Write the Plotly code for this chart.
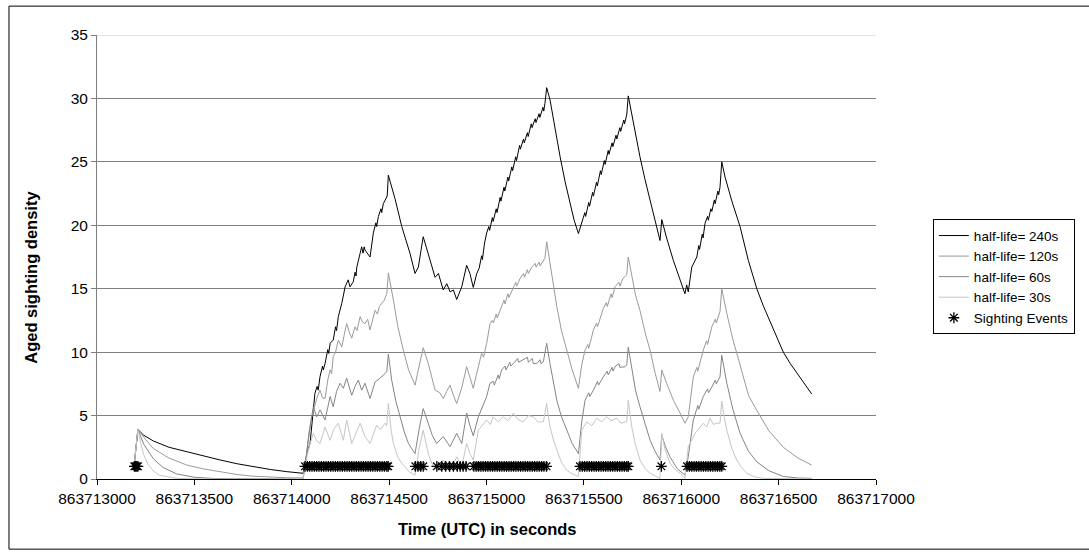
import plotly.graph_objects as go

# ---- data ----
T0 = 863713000  # times below are seconds after T0

t_240 = [190, 210, 240, 289, 370, 461, 545, 632, 720, 801, 890, 974, 1058, 1068, 1080, 1094, 1105, 1119, 1130,
         1136, 1145, 1158, 1162, 1171, 1185, 1190, 1197, 1213, 1225, 1230, 1239, 1257, 1274, 1290, 1299, 1316,
         1325, 1330, 1334, 1359, 1366, 1372, 1376, 1402, 1419, 1432, 1436, 1445, 1458, 1462, 1470, 1480, 1490,
         1496, 1530, 1565, 1607, 1633, 1650, 1675, 1701, 1736, 1753, 1778, 1796, 1813, 1830, 1847, 1873, 1898,
         1915, 1932, 1950, 1962, 1975, 1979, 1990, 2001, 2012, 2016, 2030, 2034, 2050, 2054, 2070, 2074, 2090,
         2094, 2110, 2114, 2130, 2134, 2150, 2154, 2170, 2174, 2190, 2194, 2210, 2214, 2230, 2234, 2250, 2254,
         2270, 2274, 2290, 2294, 2300, 2309, 2326, 2352, 2378, 2404, 2429, 2450, 2472, 2489, 2505, 2509, 2525,
         2529, 2545, 2549, 2565, 2569, 2585, 2589, 2605, 2609, 2625, 2629, 2645, 2649, 2665, 2669, 2685, 2689,
         2705, 2709, 2720, 2728, 2737, 2762, 2788, 2814, 2840, 2865, 2891, 2900, 2925, 2960, 2994, 3019, 3028,
         3036, 3054, 3080, 3090, 3094, 3108, 3112, 3122, 3135, 3139, 3152, 3157, 3170, 3174, 3188, 3192, 3199,
         3208, 3225, 3260, 3302, 3345, 3388, 3420, 3456, 3490, 3524, 3560, 3600, 3635, 3670]
v_240 = [1.0, 3.9, 3.45, 3.0, 2.5, 2.15, 1.8, 1.5, 1.2, 0.97, 0.75, 0.58, 0.45, 1.2, 2.2, 2.8, 4.5, 6.75, 7.3,
         7.0, 8.06, 8.9, 8.6, 9.1, 10.2, 9.9, 10.7, 10.95, 12.0, 11.7, 12.8, 13.85, 15.15, 15.7, 15.15, 15.55,
         16.3, 16.0, 16.7, 18.3, 17.8, 18.3, 18.05, 17.5, 19.4, 20.2, 19.9, 20.7, 21.3, 21.0, 21.7, 22.0, 22.3,
         23.95, 22.1, 19.9, 17.8, 16.2, 16.7, 19.1, 17.8, 15.9, 16.2, 14.9, 15.4, 14.75, 14.9, 14.15, 15.15, 16.85,
         16.2, 15.1, 16.2, 16.6, 17.6, 17.3, 18.6, 19.4, 19.9, 19.6, 20.6, 20.3, 21.3, 21.0, 22.2, 21.9, 23.0,
         22.7, 23.8, 23.5, 24.6, 24.3, 25.4, 25.1, 26.3, 26.0, 26.8, 26.5, 27.3, 27.0, 28.0, 27.7, 28.4, 28.1,
         28.8, 28.5, 29.3, 29.0, 29.6, 30.85, 29.9, 27.6, 25.4, 23.4, 21.7, 20.4, 19.35, 20.15, 21.0, 20.7, 21.8,
         21.5, 22.6, 22.3, 23.4, 23.1, 24.3, 24.0, 25.1, 24.8, 25.9, 25.6, 26.5, 26.2, 27.1, 26.8, 27.7, 27.4,
         28.3, 28.0, 28.7, 30.2, 29.5, 27.3, 25.4, 23.6, 22.0, 20.3, 18.8, 20.45, 19.0, 17.2, 15.6, 14.6, 15.3,
         14.75, 16.7, 17.5, 18.4, 18.1, 19.3, 19.0, 20.15, 20.7, 20.4, 21.3, 21.1, 22.0, 21.7, 22.7, 22.4, 23.0,
         25.0, 23.8, 21.9, 19.9, 17.2, 15.0, 13.7, 12.4, 11.2, 10.0, 9.1, 8.2, 7.4, 6.7]

t_120 = [190, 210, 250, 289, 370, 461, 545, 632, 720, 801, 890, 974, 1058, 1068, 1085, 1102, 1115, 1128, 1145,
         1158, 1171, 1185, 1197, 1205, 1213, 1225, 1239, 1257, 1270, 1282, 1295, 1308, 1325, 1335, 1351, 1362,
         1376, 1390, 1402, 1415, 1428, 1440, 1450, 1462, 1475, 1488, 1496, 1522, 1545, 1573, 1600, 1633, 1650,
         1675, 1701, 1736, 1760, 1778, 1795, 1813, 1830, 1847, 1873, 1898, 1915, 1932, 1958, 1975, 1985, 2001,
         2018, 2030, 2035, 2050, 2055, 2078, 2090, 2095, 2110, 2115, 2138, 2150, 2155, 2172, 2190, 2195, 2210,
         2215, 2232, 2250, 2255, 2270, 2275, 2292, 2300, 2309, 2326, 2345, 2361, 2385, 2412, 2440, 2472, 2489,
         2506, 2520, 2525, 2549, 2565, 2570, 2600, 2615, 2620, 2640, 2645, 2660, 2680, 2685, 2700, 2711, 2720,
         2728, 2746, 2765, 2788, 2815, 2840, 2865, 2891, 2900, 2925, 2960, 2994, 3019, 3036, 3062, 3080, 3085,
         3113, 3130, 3135, 3157, 3175, 3180, 3199, 3208, 3234, 3265, 3302, 3345, 3388, 3450, 3524, 3600, 3670]
v_120 = [1.0, 3.9, 3.1, 2.4, 1.65, 1.1, 0.8, 0.55, 0.35, 0.22, 0.14, 0.1, 0.08, 0.9, 3.0, 4.9, 5.6, 6.35, 7.0,
         6.4, 6.35, 7.8, 8.6, 8.3, 9.65, 10.0, 10.95, 10.4, 11.4, 12.25, 11.6, 11.1, 12.0, 11.7, 12.8, 12.4,
         12.25, 12.6, 11.75, 12.6, 13.3, 13.0, 13.6, 13.85, 14.1, 14.6, 16.25, 14.1, 12.0, 10.15, 8.6, 7.4, 8.5,
         10.35, 9.1, 7.0, 6.8, 6.35, 6.9, 7.4, 6.6, 5.95, 7.2, 8.85, 8.0, 7.15, 8.85, 9.9, 9.6, 10.7,
         12.25, 12.5, 12.3, 13.0, 12.7, 13.7, 14.1, 13.8, 14.6, 14.3, 15.15, 15.5, 15.2, 15.8, 16.2, 15.9, 16.5,
         16.2, 16.7, 17.0, 16.7, 17.1, 16.8, 17.25, 17.4, 18.7, 17.0, 15.2, 13.6, 11.7, 10.15, 8.6, 7.15, 9.0,
         10.15, 10.6, 10.3, 11.75, 12.3, 12.0, 13.45, 13.9, 13.6, 14.6, 14.3, 15.15, 15.5, 15.2, 15.8, 15.95, 16.1,
         17.5, 15.95, 14.5, 13.3, 11.5, 10.15, 8.4, 6.9, 8.6, 7.55, 6.2, 5.2, 4.4, 4.9, 8.05, 8.8, 8.5,
         10.15, 10.9, 10.6, 12.0, 12.6, 12.3, 13.2, 15.0, 13.05, 11.0, 9.0, 6.6, 5.4, 3.8, 2.5, 1.65, 1.1]

t_60 = [190, 210, 240, 289, 340, 409, 500, 600, 1058, 1068, 1090, 1111, 1128, 1145, 1171, 1197, 1213, 1230, 1248,
        1265, 1282, 1308, 1325, 1342, 1359, 1376, 1402, 1428, 1450, 1470, 1488, 1496, 1513, 1535, 1556, 1578,
        1599, 1633, 1655, 1675, 1701, 1720, 1744, 1778, 1813, 1847, 1873, 1898, 1915, 1932, 1958, 1980, 2001,
        2018, 2035, 2040, 2060, 2065, 2078, 2095, 2100, 2120, 2125, 2138, 2160, 2165, 2189, 2210, 2215, 2235,
        2240, 2258, 2275, 2280, 2292, 2309, 2326, 2345, 2361, 2385, 2412, 2440, 2472, 2489, 2506, 2525, 2530,
        2549, 2570, 2575, 2600, 2620, 2625, 2645, 2650, 2660, 2680, 2685, 2711, 2720, 2728, 2746, 2765, 2788,
        2815, 2840, 2865, 2891, 2900, 2920, 2942, 2980, 3019, 3036, 3062, 3085, 3090, 3113, 3135, 3140, 3157,
        3175, 3180, 3199, 3208, 3234, 3265, 3302, 3345, 3388, 3450, 3524, 3600, 3670]
v_60 = [1.0, 3.9, 2.75, 1.6, 0.9, 0.4, 0.14, 0.04, 0.0, 1.0, 3.8, 5.7, 4.9, 5.45, 4.65, 6.5, 5.7, 6.9, 7.55,
        7.15, 7.95, 6.6, 7.3, 7.8, 7.0, 7.55, 6.35, 7.65, 7.9, 8.2, 8.45, 9.85, 7.8, 6.1, 4.9, 3.7,
        2.8, 2.0, 4.0, 5.55, 4.4, 3.5, 2.8, 3.35, 2.55, 3.6, 2.8, 5.2, 4.2, 3.4, 4.9, 5.8, 6.5,
        7.55, 7.7, 7.4, 8.2, 7.9, 8.6, 8.9, 8.6, 9.2, 8.9, 9.1, 9.5, 9.2, 9.4, 9.6, 9.2, 9.5,
        9.1, 9.1, 9.4, 9.1, 9.25, 10.7, 9.1, 7.4, 6.2, 4.9, 3.85, 2.8, 2.0, 4.5, 6.2, 6.8, 6.5,
        7.0, 7.7, 7.4, 8.05, 8.5, 8.2, 8.8, 8.5, 8.85, 9.1, 8.8, 8.85, 9.0, 10.4, 8.6, 7.0, 5.7,
        4.3, 3.05, 2.2, 1.5, 3.45, 2.5, 1.75, 0.8, 0.3, 1.75, 4.65, 5.8, 5.5, 6.5, 7.1, 6.8, 7.25,
        7.8, 7.5, 8.05, 9.75, 7.55, 5.5, 3.6, 2.2, 1.35, 0.65, 0.2, 0.08, 0.05]

t_30 = [190, 210, 225, 238, 260, 289, 320, 409, 550, 1058, 1068, 1090, 1111, 1128, 1145, 1171, 1197, 1215, 1239,
        1265, 1282, 1308, 1330, 1351, 1376, 1402, 1436, 1455, 1479, 1488, 1496, 1510, 1522, 1545, 1565, 1600,
        1633, 1655, 1675, 1701, 1720, 1744, 1778, 1813, 1847, 1873, 1898, 1915, 1932, 1958, 2001, 2020, 2035,
        2060, 2086, 2110, 2138, 2160, 2189, 2215, 2240, 2265, 2292, 2309, 2318, 2326, 2345, 2361, 2385, 2412,
        2440, 2472, 2489, 2515, 2540, 2566, 2590, 2617, 2640, 2669, 2690, 2711, 2720, 2728, 2737, 2746, 2765,
        2788, 2815, 2840, 2891, 2900, 2915, 2942, 2965, 2994, 3019, 3036, 3071, 3113, 3130, 3148, 3165, 3182,
        3199, 3208, 3220, 3234, 3260, 3285, 3310, 3336, 3380, 3422, 3670]
v_30 = [1.0, 3.9, 2.8, 2.0, 1.2, 0.65, 0.3, 0.05, 0.0, 0.0, 1.0, 2.6, 3.6, 3.0, 2.8, 4.1, 3.05, 3.9, 4.4,
        3.05, 4.65, 2.8, 3.6, 4.4, 3.35, 2.8, 4.25, 3.9, 4.4, 4.2, 5.95, 3.9, 2.8, 1.7, 1.25, 0.6,
        0.3, 2.5, 3.85, 2.0, 1.2, 0.7, 1.5, 0.6, 1.75, 0.97, 2.8, 2.0, 1.5, 3.85, 4.65, 4.3, 4.9,
        4.5, 4.9, 4.6, 5.2, 4.7, 4.5, 5.0, 4.9, 4.5, 4.5, 5.95, 4.9, 4.1, 3.0, 2.3, 1.3, 0.7,
        0.4, 0.2, 3.85, 4.5, 4.2, 4.8, 4.5, 4.9, 4.6, 4.8, 4.4, 4.5, 4.5, 6.2, 5.0, 4.1, 2.7,
        1.5, 0.8, 0.45, 0.05, 3.6, 2.4, 1.25, 0.8, 0.45, 0.05, 2.55, 3.6, 4.4, 4.1, 4.8, 4.3, 4.4,
        4.4, 6.15, 4.9, 3.85, 2.4, 1.5, 0.9, 0.45, 0.15, 0.05, 0.0]

t_events = [192, 198, 204, 210,
            1068, 1080, 1092, 1104, 1116, 1128, 1140, 1152, 1164, 1176, 1188, 1200, 1212, 1224, 1236, 1248,
            1260, 1272, 1284, 1296, 1308, 1320, 1332, 1344, 1356, 1368, 1380, 1392, 1404, 1416, 1428, 1440,
            1452, 1464, 1476, 1488, 1495,
            1635, 1648, 1662, 1675,
            1745, 1770, 1790, 1810, 1830, 1850, 1865, 1880, 1895,
            1935, 1947, 1959, 1971, 1983, 1995, 2007, 2019, 2031, 2043, 2055, 2067, 2079, 2091, 2103, 2115,
            2127, 2139, 2151, 2163, 2175, 2187, 2199, 2211, 2223, 2235, 2247, 2259, 2271, 2283, 2295, 2308,
            2480, 2492, 2504, 2516, 2528, 2540, 2552, 2564, 2576, 2588, 2600, 2612, 2624, 2636, 2648, 2660,
            2672, 2684, 2696, 2708, 2720, 2728,
            2898,
            3030, 3042, 3054, 3066, 3078, 3090, 3102, 3114, 3126, 3138, 3150, 3162, 3174, 3186, 3198, 3208]
event_level = 1

x_ticks = [863713000, 863713500, 863714000, 863714500, 863715000, 863715500, 863716000, 863716500, 863717000]
y_ticks = [0, 5, 10, 15, 20, 25, 30, 35]

series = [
    ("half-life= 240s", t_240, v_240, "#000000"),
    ("half-life= 120s", t_120, v_120, "#9a9a9a"),
    ("half-life= 60s", t_60, v_60, "#858585"),
    ("half-life= 30s", t_30, v_30, "#c6c6c6"),
]

FONT = "Liberation Sans, Arial, sans-serif"

fig = go.Figure()
for name, ts, vs, col in series:
    fig.add_trace(go.Scatter(x=[T0 + t for t in ts], y=vs, mode="lines", name=name,
                             line=dict(color=col, width=1)))
fig.add_trace(go.Scatter(x=[T0 + t for t in t_events], y=[event_level] * len(t_events), mode="markers",
                         name="Sighting Events",
                         marker=dict(symbol="asterisk-open", size=9, color="#000000",
                                     line=dict(color="#000000", width=1.3))))

frame = dict(color="#000000", width=1)
fig.update_layout(
    width=1089, height=560,
    margin=dict(l=97, r=213, t=35, b=81),
    paper_bgcolor="white", plot_bgcolor="white",
    font=dict(family=FONT, size=13, color="#000000"),
    showlegend=True,
    legend=dict(x=1.073, y=0.585, xanchor="left", yanchor="top",
                bordercolor="#000000", borderwidth=1, bgcolor="white",
                font=dict(family=FONT, size=13.5), tracegroupgap=0),
    xaxis=dict(range=[x_ticks[0], x_ticks[-1]], tickvals=x_ticks, ticktext=[str(v) for v in x_ticks],
               showgrid=False, zeroline=False, showline=True, linecolor="#000000", linewidth=1,
               ticks="outside", ticklen=5, tickcolor="#000000", tickfont=dict(size=15.5)),
    yaxis=dict(range=[0, 35], tickvals=y_ticks, showgrid=True, gridcolor="#7f7f7f", gridwidth=1,
               zeroline=False, showline=True, linecolor="#7f7f7f", linewidth=1,
               ticks="outside", ticklen=5, tickcolor="#7f7f7f", tickfont=dict(size=15.5)),
    annotations=[
        dict(text="<b>Time (UTC) in seconds</b>", xref="paper", yref="paper", x=0.5, y=-0.113,
             xanchor="center", yanchor="middle", showarrow=False, font=dict(size=16.5)),
        dict(text="<b>Aged sighting density</b>", xref="paper", yref="paper", x=-0.085, y=0.455,
             xanchor="center", yanchor="middle", showarrow=False, textangle=-90, font=dict(size=16.5)),
    ],
    shapes=[
        dict(type="line", xref="paper", yref="y", x0=0, x1=1, y0=35, y1=35,
             line=dict(color="#c8c8c8", width=1), layer="above"),
        # outer chart frame (its right edge lies beyond the picture)
        dict(type="line", xref="paper", yref="paper", x0=-0.113, x1=1.35, y0=1.065, y1=1.065, line=frame),
        dict(type="line", xref="paper", yref="paper", x0=-0.113, x1=1.35, y0=-0.158, y1=-0.158, line=frame),
        dict(type="line", xref="paper", yref="paper", x0=-0.113, x1=-0.113, y0=-0.158, y1=1.065, line=frame),
    ],
)

# remove the browser's default 8px body margin so the figure sits at the page origin
fig.write_html("out.html", config={"displayModeBar": False},
               post_script="document.body.style.margin='0px';")
